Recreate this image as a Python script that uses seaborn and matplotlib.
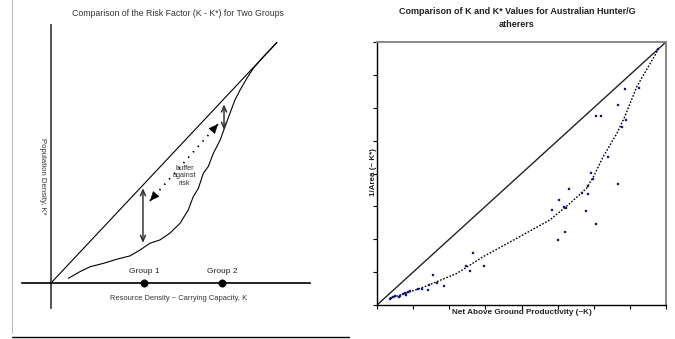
import matplotlib
matplotlib.use("Agg")
import matplotlib.pyplot as plt
from matplotlib.lines import Line2D
import seaborn as sns
import pandas as pd

sns.set_theme(style="white")
plt.rcParams['font.family'] = ['Liberation Sans', 'DejaVu Sans']

# ---------------- Left panel data (conceptual diagram) ----------------
diag_k = [0.0, 8.72]
diag_kstar = [0.0, 9.32]
curve_k = [0.67, 1.12, 1.51, 2.02, 2.54, 3.05, 3.44, 3.82, 4.21, 4.59, 4.98, 5.30,
           5.49, 5.69, 5.88, 6.07, 6.27, 6.53, 6.72, 6.91, 7.10, 7.30, 7.56, 7.81, 8.20, 8.72]
curve_kstar = [0.18, 0.44, 0.63, 0.76, 0.92, 1.05, 1.28, 1.54, 1.67, 1.93, 2.31, 2.83,
               3.34, 3.67, 4.25, 4.51, 5.03, 5.54, 6.06, 6.58, 7.09, 7.48, 7.93, 8.32, 8.77, 9.32]
group_names = ["Group 1", "Group 2"]
group_k = [3.59, 6.60]
group_kstar = [0.0, 0.0]
arrow1_k, arrow1_lo, arrow1_hi = 3.55, 1.55, 3.68
arrow2_k, arrow2_lo, arrow2_hi = 6.68, 5.93, 6.93
buffer_k = [3.82, 6.45]
buffer_kstar = [3.18, 6.16]

# ---------------- Right panel data ----------------
pts_x = [7.79, 6.87, 7.26, 6.66, 6.05, 6.19, 6.88, 6.77, 6.40, 5.92, 5.99, 6.66, 5.84,
         5.31, 5.68, 5.85, 5.03, 5.18, 5.23, 4.84, 5.79, 6.05, 5.20, 5.00, 2.66, 2.46,
         2.97, 2.58, 1.54, 1.65, 1.45, 1.85, 1.14, 1.24, 1.40, 0.91, 0.87, 0.80, 0.78,
         0.64, 0.62, 0.50, 0.43, 0.38, 0.36, 0.73]
pts_y = [7.78, 6.56, 6.59, 6.07, 5.75, 5.75, 5.63, 5.41, 4.51, 4.01, 3.82, 3.68, 3.62,
         3.52, 3.42, 3.37, 3.19, 2.99, 2.96, 2.89, 2.87, 2.46, 2.23, 1.98, 1.57, 1.19,
         1.20, 1.04, 0.91, 0.68, 0.61, 0.59, 0.50, 0.48, 0.47, 0.42, 0.39, 0.30, 0.36,
         0.28, 0.23, 0.26, 0.23, 0.20, 0.18, 0.33]
fit_x = [0.36, 1.28, 2.21, 2.94, 3.87, 4.79, 5.34, 5.80, 5.99, 6.26, 6.64, 6.86, 7.19, 7.79]
fit_y = [0.20, 0.54, 0.96, 1.47, 2.03, 2.59, 3.09, 3.55, 3.90, 4.51, 5.22, 5.73, 6.64, 7.78]
ident = [0, 8]
ticks = [0, 1, 2, 3, 4, 5, 6, 7, 8]

W, H = 675, 339
fig = plt.figure(figsize=(6.75, 3.39), dpi=100)

def fx(px):
    return px / W

def fy(py):
    return 1 - py / H

# ---------------- Left panel ----------------
axL = fig.add_axes([fx(22), fy(308), fx(288), 283 / H])
axL.set_xlim(-1.12, 10.0)
axL.set_ylim(-0.97, 10.0)
for s in ["top", "right"]:
    axL.spines[s].set_visible(False)
axL.spines["left"].set_position(("data", 0))
axL.spines["bottom"].set_position(("data", 0))
axL.spines["left"].set_color("#444444")
axL.spines["left"].set_linewidth(1.3)
axL.spines["bottom"].set_color("black")
axL.spines["bottom"].set_linewidth(1.2)
axL.set_xticks([])
axL.set_yticks([])
axL.patch.set_alpha(0)

sns.lineplot(x=diag_k, y=diag_kstar, ax=axL, color="black", linewidth=0.8, sort=False)
sns.lineplot(x=curve_k, y=curve_kstar, ax=axL, color="black", linewidth=0.8, sort=False)
sns.scatterplot(x=group_k, y=group_kstar, ax=axL, color="black", s=28, edgecolor="black",
                zorder=5, clip_on=False)
for name, k in zip(group_names, group_k):
    axL.text(k, 0.3, name, ha="center", va="bottom", fontsize=6.0, color="#222222")

arrow_style = dict(arrowstyle="<->,head_length=0.35,head_width=0.15", color="#333333", lw=1.1,
                   shrinkA=0, shrinkB=0)
axL.annotate("", xy=(arrow1_k, arrow1_lo), xytext=(arrow1_k, arrow1_hi), arrowprops=arrow_style)
axL.annotate("", xy=(arrow2_k, arrow2_lo), xytext=(arrow2_k, arrow2_hi), arrowprops=arrow_style)

# dotted "buffer" line with triangular heads at both ends
sns.lineplot(x=buffer_k, y=buffer_kstar, ax=axL, color="black", linewidth=1.3, sort=False,
             linestyle=(0, (0.8, 3.2)))
head = dict(arrowstyle="-|>,head_length=0.5,head_width=0.22", color="black", lw=0.5,
            shrinkA=0, shrinkB=0)
dk = (buffer_k[1] - buffer_k[0]) * 0.04
dks = (buffer_kstar[1] - buffer_kstar[0]) * 0.04
axL.annotate("", xy=(buffer_k[0], buffer_kstar[0]),
             xytext=(buffer_k[0] + dk, buffer_kstar[0] + dks), arrowprops=head)
axL.annotate("", xy=(buffer_k[1], buffer_kstar[1]),
             xytext=(buffer_k[1] - dk, buffer_kstar[1] - dks), arrowprops=head)
axL.text(5.15, 4.15, "buffer\nagainst\nrisk", ha="center", va="center", fontsize=5.3,
         color="#333333", linespacing=1.1)

fig.text(fx(178), fy(13), "Comparison of the Risk Factor (K - K*) for Two Groups",
         ha="center", va="center", fontsize=6.3, color="#333333")
fig.text(fx(179), fy(298), "Resource Density ~ Carrying Capacity, K",
         ha="center", va="center", fontsize=5.4, color="#333333")
fig.text(fx(42), fy(176), "Population Density, K*", rotation=-90,
         ha="center", va="center", fontsize=5.6, color="#333333")

# frame decorations of left panel
fig.add_artist(Line2D([fx(12), fx(12)], [fy(0), fy(333)], color="#bbbbbb", lw=0.8))
fig.add_artist(Line2D([fx(12), fx(349)], [fy(336.5), fy(336.5)], color="black", lw=1.0))

# ---------------- Right panel ----------------
axR = fig.add_axes([fx(377), fy(305), fx(289), 263 / H])
df = pd.DataFrame({"x": pts_x, "y": pts_y})
sns.lineplot(x=ident, y=ident, ax=axR, color="#222222", linewidth=1.0)
sns.lineplot(x=fit_x, y=fit_y, ax=axR, color="black", linewidth=1.0, sort=False,
             linestyle=(0, (1.2, 1.2)))
sns.scatterplot(data=df, x="x", y="y", ax=axR, marker="s", s=3, color="#14148a",
                edgecolor="#14148a", linewidth=0.2, zorder=5)
axR.set_xlim(0, 8)
axR.set_ylim(0, 8)
axR.set_xticks(ticks)
axR.set_yticks(ticks)
axR.set_xticklabels([])
axR.set_yticklabels([])
axR.tick_params(axis="both", which="both", direction="out", length=3, width=0.8,
                colors="black", bottom=True, left=True, top=False, right=False)
axR.set_xlabel("")
axR.set_ylabel("")
for s in ["top", "right"]:
    axR.spines[s].set_color("#888888")
    axR.spines[s].set_linewidth(1.4)
for s in ["left", "bottom"]:
    axR.spines[s].set_color("black")
    axR.spines[s].set_linewidth(1.0)

fig.text(fx(517), fy(18), "Comparison of K and K* Values for Australian Hunter/G\natherers",
         ha="center", va="center", fontsize=6.5, fontweight="bold", color="#222222",
         linespacing=1.6)
fig.text(fx(522), fy(313), "Net Above Ground Productivity (~K)", ha="center", va="center",
         fontsize=5.9, fontweight="bold", color="#222222")
fig.text(fx(373), fy(172), "1/Area (~ K*)", rotation=90, ha="center", va="center",
         fontsize=5.8, fontweight="bold", color="#222222")

fig.savefig("out.png", dpi=100)
